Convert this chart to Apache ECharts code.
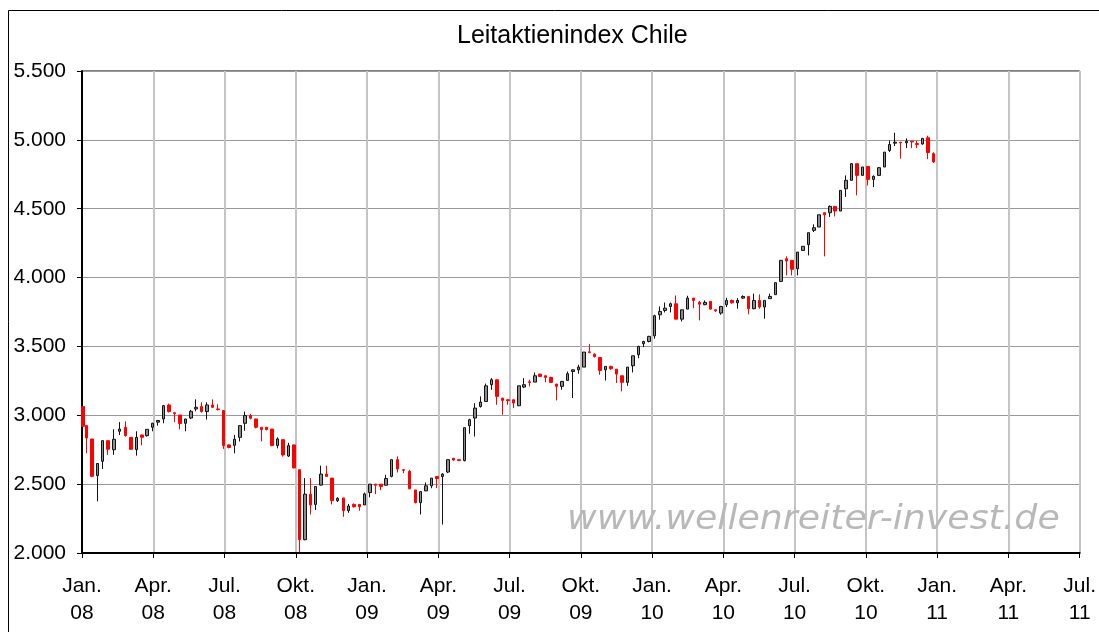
<!DOCTYPE html>
<html>
<head>
<meta charset="utf-8">
<title>Leitaktienindex Chile</title>
<script src="https://cdn.jsdelivr.net/npm/echarts@6/dist/echarts.min.js"></script>
<style>
html, body { margin: 0; padding: 0; background: #fff; }
#main { width: 1099px; height: 632px; }
</style>
</head>
<body>
<div id="main"></div>
<script>
// Wochenkerzen: erste Kerze am 2.1.2008, danach jeweils Montag ab 7.1.2008
var firstDay = '2008-01-02';
var firstMonday = '2008-01-07';

var opens = [
  3063, 2925, 2828, 2562, 2666, 2816, 2750, 2884, 2913, 2840, 2751, 2857, 2852, 2913, 2950, 2973, 3075, 3019, 3002, 2942,
  2980, 3046, 3063, 3027, 3075, 3046, 3034, 2785, 2782, 2840, 2942, 2998, 2973, 2913, 2913, 2900, 2780, 2823, 2704, 2785,
  2605, 2097, 2427, 2353, 2493, 2573, 2544, 2380, 2400, 2307, 2353, 2353, 2349, 2439, 2500, 2500, 2492, 2556, 2678, 2605,
  2593, 2458, 2366, 2451, 2488, 2556, 2556, 2588, 2688, 2678, 2671, 2924, 2980, 3064, 3100, 3222, 3258, 3125, 3113, 3113,
  3069, 3205, 3243, 3241, 3299, 3287, 3275, 3227, 3210, 3253, 3318, 3330, 3350, 3461, 3444, 3420, 3330, 3355, 3335, 3287,
  3239, 3360, 3440, 3520, 3536, 3577, 3730, 3761, 3790, 3810, 3698, 3771, 3851, 3820, 3803, 3827, 3766, 3742, 3803, 3834,
  3817, 3851, 3863, 3774, 3834, 3786, 3847, 3876, 3972, 4137, 4125, 4064, 4197, 4239, 4343, 4367, 4471, 4471, 4517, 4483,
  4645, 4706, 4827, 4742, 4807, 4713, 4742, 4803, 4923, 4976, 4983, 4978, 4990, 4973, 4970, 5015, 4900
];
var closes = [
  2920, 2835, 2557, 2650, 2816, 2753, 2826, 2900, 2852, 2753, 2840, 2840, 2898, 2942, 2962, 3070, 3027, 3012, 2940, 2973,
  3029, 3058, 3027, 3075, 3058, 3041, 2780, 2766, 2826, 2925, 2998, 2978, 2913, 2896, 2896, 2780, 2828, 2712, 2780, 2618,
  2097, 2427, 2349, 2483, 2573, 2556, 2380, 2397, 2307, 2341, 2336, 2336, 2429, 2500, 2492, 2483, 2541, 2678, 2610, 2600,
  2466, 2366, 2446, 2488, 2544, 2541, 2573, 2678, 2675, 2671, 2910, 2968, 3052, 3096, 3214, 3258, 3137, 3108, 3106, 3089,
  3214, 3222, 3238, 3287, 3282, 3275, 3239, 3210, 3246, 3302, 3330, 3350, 3459, 3456, 3427, 3326, 3355, 3338, 3299, 3239,
  3350, 3432, 3500, 3536, 3573, 3723, 3754, 3778, 3810, 3698, 3766, 3851, 3834, 3807, 3820, 3771, 3759, 3790, 3834, 3817,
  3834, 3863, 3774, 3834, 3786, 3834, 3863, 3963, 4125, 4120, 4060, 4185, 4227, 4326, 4362, 4456, 4456, 4517, 4483, 4633,
  4706, 4827, 4742, 4803, 4713, 4735, 4798, 4911, 4966, 4983, 4978, 4990, 4985, 4966, 5010, 4908, 4840
];
var lows = [
  2915, 2724, 2550, 2375, 2610, 2712, 2712, 2857, 2845, 2750, 2707, 2782, 2845, 2884, 2925, 2942, 3020, 2950, 2898, 2884,
  2973, 3029, 3020, 2969, 3055, 3035, 2756, 2760, 2724, 2810, 2888, 2970, 2905, 2811, 2890, 2775, 2760, 2700, 2697, 2615,
  2005, 2092, 2280, 2312, 2490, 2556, 2353, 2370, 2263, 2292, 2330, 2307, 2349, 2405, 2427, 2456, 2490, 2550, 2585, 2580,
  2466, 2360, 2280, 2450, 2470, 2471, 2207, 2580, 2670, 2670, 2665, 2866, 2846, 3056, 3100, 3185, 3076, 3004, 3077, 3052,
  3069, 3197, 3210, 3241, 3280, 3239, 3235, 3108, 3185, 3253, 3125, 3302, 3350, 3450, 3420, 3294, 3253, 3330, 3234, 3174,
  3214, 3311, 3415, 3495, 3530, 3556, 3694, 3747, 3747, 3698, 3681, 3771, 3778, 3689, 3800, 3765, 3750, 3730, 3786, 3810,
  3774, 3845, 3733, 3770, 3774, 3701, 3845, 3876, 3972, 4016, 4016, 4016, 4195, 4161, 4331, 4367, 4154, 4440, 4444, 4483,
  4585, 4706, 4597, 4742, 4669, 4657, 4740, 4803, 4911, 4955, 4863, 4940, 4940, 4940, 4965, 4860, 4832
];
var highs = [
  3065, 2925, 2828, 2650, 2816, 2816, 2898, 2950, 2956, 2840, 2884, 2860, 2900, 2945, 2966, 3075, 3085, 3020, 3002, 2975,
  3039, 3116, 3094, 3094, 3116, 3080, 3034, 2790, 2857, 2925, 3027, 3010, 2975, 2913, 2915, 2900, 2840, 2823, 2800, 2785,
  2605, 2544, 2544, 2483, 2634, 2634, 2544, 2405, 2400, 2356, 2360, 2355, 2439, 2500, 2500, 2500, 2568, 2678, 2702, 2610,
  2605, 2458, 2446, 2512, 2544, 2556, 2580, 2678, 2690, 2680, 2910, 2975, 3088, 3137, 3230, 3270, 3258, 3125, 3118, 3113,
  3214, 3270, 3258, 3311, 3300, 3290, 3280, 3227, 3250, 3318, 3335, 3367, 3459, 3517, 3450, 3420, 3355, 3360, 3335, 3287,
  3350, 3432, 3505, 3541, 3577, 3730, 3790, 3819, 3819, 3870, 3766, 3868, 3851, 3831, 3834, 3827, 3770, 3795, 3853, 3840,
  3851, 3871, 3863, 3883, 3878, 3834, 3883, 3963, 4125, 4154, 4125, 4185, 4227, 4326, 4386, 4456, 4471, 4524, 4517, 4633,
  4742, 4832, 4827, 4803, 4807, 4742, 4803, 4911, 4995, 5052, 4985, 5010, 4992, 4995, 5015, 5030, 4910
];

var quarterNames = ['Jan.', 'Apr.', 'Jul.', 'Okt.'];
var yTicks = [2000, 2500, 3000, 3500, 4000, 4500, 5000, 5500];

// Datum -> Monate seit Jan. 2008 (Achse in Monaten, damit die Gitterlinien auf Quartale fallen)
function monthPos(d) {
  var y = d.getUTCFullYear(), m = d.getUTCMonth();
  var dim = new Date(Date.UTC(y, m + 1, 0)).getUTCDate();
  return (y - 2008) * 12 + m + (d.getUTCDate() - 1) / dim;
}

var candles = [];
for (var i = 0; i < opens.length; i++) {
  var d = i === 0 ? new Date(firstDay + 'T00:00:00Z')
    : new Date(Date.parse(firstMonday + 'T00:00:00Z') + (i - 1) * 7 * 86400000);
  candles.push([monthPos(d), opens[i], closes[i], lows[i], highs[i]]);
}

function fmtThousand(v) {
  return String(v).replace(/\B(?=(\d{3})+$)/, '.');
}

var myChart = echarts.init(document.getElementById('main'));
myChart.setOption({
  animation: false,
  backgroundColor: '#fff',
  title: {
    text: 'Leitaktienindex Chile',
    left: 452,
    top: 19,
    textStyle: { fontFamily: 'Liberation Sans, Arial', fontSize: 25, fontWeight: 'normal', color: '#000' }
  },
  graphic: [
    {
      type: 'rect',
      silent: true,
      shape: { x: 8.5, y: 10.5, width: 1200, height: 1000 },
      style: { fill: 'none', stroke: '#000', lineWidth: 1 }
    },
    {
      type: 'text',
      silent: true,
      z: 1,
      x: 567,
      y: 504,
      scaleX: 1.1,
      style: {
        text: 'www.wellenreiter-invest.de',
        font: 'italic 33px "DejaVu Sans", sans-serif',
        fill: '#b8b8b8'
      }
    }
  ],
  grid: {
    left: 82, right: 14, top: 71, bottom: 79,
    show: true, borderColor: '#000', borderWidth: 1, backgroundColor: 'transparent'
  },
  xAxis: {
    type: 'value',
    min: 0, max: 42, interval: 3,
    axisLine: { lineStyle: { color: '#000', width: 2 } },
    axisTick: { show: true, length: 5, lineStyle: { color: '#000' } },
    splitLine: { show: true, lineStyle: { color: '#c4c4c4', width: 2 } },
    axisLabel: {
      margin: 20,
      color: '#000',
      fontFamily: 'Liberation Sans, Arial',
      fontSize: 21,
      lineHeight: 27,
      formatter: function (v) {
        var yr = 8 + Math.floor(v / 12);
        return quarterNames[(v % 12) / 3] + '\n' + (yr < 10 ? '0' + yr : '' + yr);
      }
    }
  },
  yAxis: {
    type: 'value',
    min: yTicks[0], max: yTicks[yTicks.length - 1], interval: 500,
    axisLine: { show: true, lineStyle: { color: '#000', width: 2 } },
    axisTick: { show: true, length: 5, lineStyle: { color: '#000' } },
    splitLine: { show: true, lineStyle: { color: '#999', width: 1 } },
    axisLabel: {
      margin: 16,
      color: '#000',
      fontFamily: 'Liberation Sans, Arial',
      fontSize: 21,
      formatter: fmtThousand
    }
  },
  series: [{
    type: 'candlestick',
    data: candles,
    encode: { x: 0, y: [1, 2, 3, 4] },
    barWidth: 3,
    itemStyle: {
      color: '#8c8c8c',
      color0: '#ff0000',
      borderColor: '#111',
      borderColor0: '#ff0000',
      borderWidth: 1
    }
  }]
});
</script>
</body>
</html>
